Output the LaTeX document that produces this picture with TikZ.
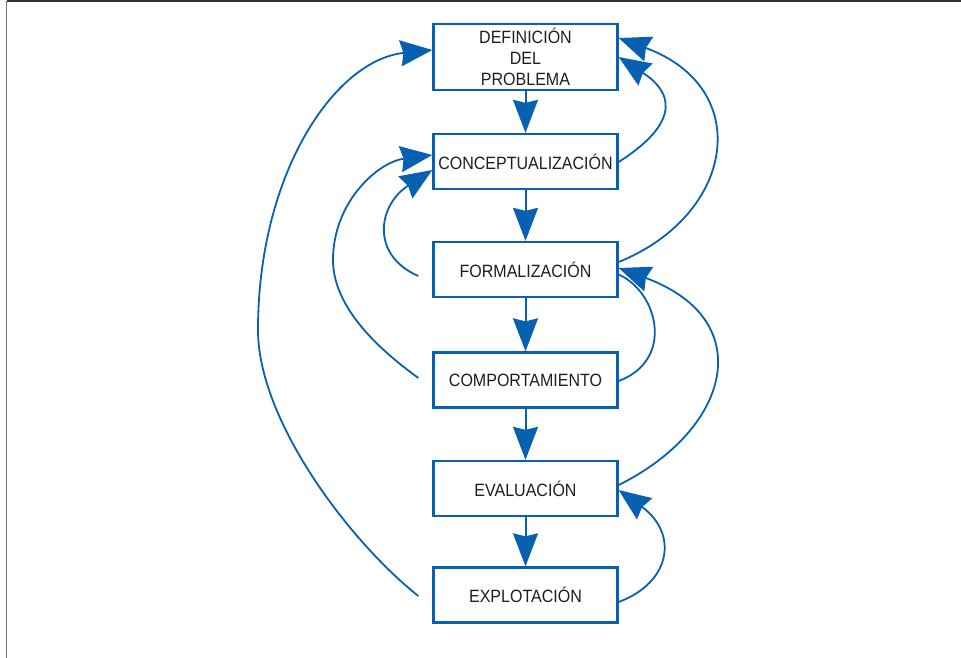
\documentclass[tikz,border=0pt]{standalone}
\usepackage{fontspec}
\setmainfont{Liberation Sans}[FakeStretch=0.9]
\usetikzlibrary{arrows.meta,calc}
\definecolor{flowblue}{RGB}{8,96,176}
\definecolor{labelgray}{RGB}{30,30,30}
\begin{document}
\begin{tikzpicture}[x=1pt,y=-1pt,
  stage/.style={draw=flowblue, line width=2.3pt, fill=white,
    minimum width=184pt, minimum height=55pt, inner sep=0pt,
    font=\fontsize{17.8}{21}\selectfont, text=labelgray, align=center},
  flow/.style={draw=flowblue, line width=2pt,
    -{Stealth[length=33pt,width=25pt,inset=3pt]}},
  loopback/.style={draw=flowblue, line width=1.8pt,
    -{Stealth[length=32pt,width=26pt,inset=3pt]}},
  plainloop/.style={draw=flowblue, line width=1.8pt}]
\useasboundingbox (0,0) rectangle (961,658);

% page frame: left and top rules
\draw[line width=1.8pt, color=black!55] (6.5,658) -- (6.5,1);
\draw[line width=1.6pt, color=black!80] (6.5,1) -- (961,1);

% stages of the modelling process
\node[stage, minimum height=66pt] (def) at (525.5,57) {DEFINICIÓN\\DEL\\PROBLEMA};
\node[stage] (con) at (525.5,161.5) {CONCEPTUALIZACIÓN};
\node[stage] (for) at (525.5,269.5) {FORMALIZACIÓN};
\node[stage] (com) at (525.5,380) {COMPORTAMIENTO};
\node[stage] (eva) at (525.5,488.5) {EVALUACIÓN};
\node[stage] (exp) at (525.5,595) {EXPLOTACIÓN};

% main sequence
\draw[flow] (def) -- (con);
\draw[flow] (con) -- (for);
\draw[flow] (for) -- (com);
\draw[flow] (com) -- (eva);
\draw[flow] (eva) -- (exp);

% feedback loops on the left
\draw[loopback] ($(exp.west)+(-14,1)$) .. controls (349,541) and (258,420) .. (258,330)
  .. controls (258,173) and (335,60) .. ($(def.west)+(0,-7)$);
\draw[loopback] ($(com.west)+(-14,-2)$) .. controls (384,353) and (333,310) .. (333,260)
  .. controls (333,202) and (378,162) .. ($(con.west)+(0,-6.5)$);
\draw[loopback] ($(for.west)+(-14,6.5)$) .. controls (370,255) and (378,205) .. ($(con.west)+(0,8.5)$);

% feedback loops on the right
\draw[loopback] ($(con.east)+(0,0.5)$) .. controls (672,128) and (680,97) .. (def.east);
\draw[loopback] ($(for.east)+(0,-7.5)$) .. controls (735,215) and (755,88) .. ($(def.east)+(0,-19)$);
\draw[plainloop] ($(for.east)+(0,5)$) .. controls (658,292) and (675,360) .. ($(com.east)+(0,1)$);
\draw[loopback] ($(eva.east)+(0,-3.5)$) .. controls (730,430) and (760,320) .. ($(for.east)+(0,-1.5)$);
\draw[loopback] ($(exp.east)+(0,7)$) .. controls (672,582) and (678,533) .. ($(eva.east)+(0,1.5)$);
\end{tikzpicture}
\end{document}
